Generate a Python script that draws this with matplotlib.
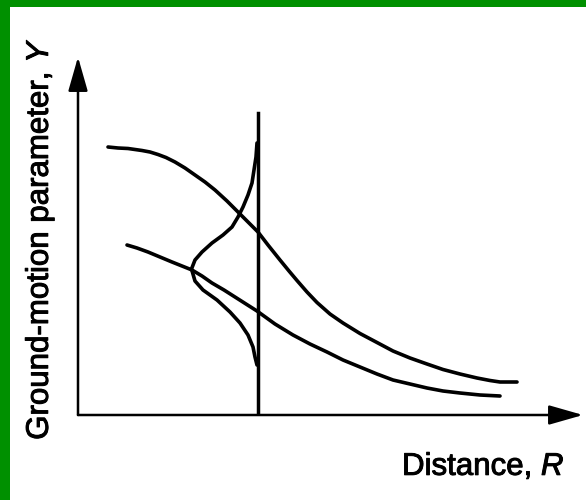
import matplotlib
matplotlib.use("Agg")
import matplotlib.pyplot as plt
import matplotlib.patheffects as pe
from matplotlib.patches import Rectangle

plt.rcParams.update({
    "font.family": ["Liberation Sans", "DejaVu Sans"],
    "mathtext.fontset": "custom",
    "mathtext.rm": "Liberation Sans",
    "mathtext.it": "Liberation Sans:italic",
})

# median curves (arbitrary units)
upper_R = [0.60, 0.80, 1.00, 1.28, 1.44, 1.60, 1.76, 1.94, 2.14, 2.34,
           2.54, 2.74, 2.98, 3.20, 3.40, 3.60, 3.80, 4.04, 4.22, 4.38,
           4.58, 4.78, 5.04, 5.30, 5.64, 5.98, 6.30, 6.64, 6.98, 7.30,
           7.64, 7.98, 8.24, 8.44, 8.78]
upper_Y = [5.36, 5.34, 5.33, 5.29, 5.26, 5.21, 5.15, 5.06, 4.94, 4.80,
           4.66, 4.50, 4.28, 4.06, 3.86, 3.66, 3.40, 3.10, 2.88, 2.69,
           2.46, 2.25, 2.02, 1.84, 1.63, 1.45, 1.28, 1.14, 1.02, 0.91,
           0.82, 0.74, 0.69, 0.66, 0.66]

lower_R = [0.98, 1.18, 1.40, 1.64, 1.88, 2.08, 2.28, 2.48, 2.68, 2.92,
           3.14, 3.36, 3.58, 3.94, 4.30, 4.64, 4.98, 5.30, 5.64, 5.98,
           6.30, 6.64, 6.98, 7.30, 7.64, 8.04, 8.44]
lower_Y = [3.40, 3.34, 3.26, 3.16, 3.06, 2.98, 2.90, 2.78, 2.64, 2.50,
           2.36, 2.22, 2.08, 1.82, 1.60, 1.42, 1.26, 1.10, 0.96, 0.82,
           0.70, 0.62, 0.54, 0.48, 0.44, 0.40, 0.38]

# site distance and the scatter distribution drawn on it
site_R = 3.60
site_top = 6.04
pdf_R = [3.58, 3.56, 3.52, 3.48, 3.40, 3.30, 3.20, 3.08, 2.90, 2.68,
         2.48, 2.34, 2.27, 2.34, 2.50, 2.78, 3.04, 3.24, 3.40, 3.50,
         3.54, 3.58]
pdf_Y = [5.44, 5.16, 4.90, 4.64, 4.40, 4.16, 3.96, 3.76, 3.60, 3.44,
         3.26, 3.10, 2.92, 2.68, 2.50, 2.30, 2.06, 1.84, 1.60, 1.36,
         1.16, 1.00]

R_MAX, Y_MAX = 10.1, 7.16

fig = plt.figure(figsize=(5.86, 5.0), dpi=100)
fig.patch.set_facecolor("#009000")
fig.patches.append(Rectangle((10 / 586, 0), 1, 493 / 500, transform=fig.transFigure,
                             facecolor="white", edgecolor="none", zorder=-10))

ax = fig.add_axes([78 / 586, 85 / 500, 505 / 586, 358 / 500])
ax.set_xlim(0, R_MAX)
ax.set_ylim(0, Y_MAX)
ax.axis("off")

lw = 2.6
style = dict(color="black", lw=lw, solid_capstyle="round", solid_joinstyle="round")
ax.plot(upper_R, upper_Y, **style)
ax.plot(lower_R, lower_Y, **style)
ax.plot([site_R, site_R], [0, site_top], color="black", lw=2.5)
ax.plot(pdf_R, pdf_Y, **style)

arrow = dict(arrowstyle="-|>,head_length=1.05,head_width=0.3", lw=1.8,
             color="black", shrinkA=0, shrinkB=0, mutation_scale=20)
ax.annotate("", xy=(R_MAX, 0), xytext=(0, 0), arrowprops=arrow,
            annotation_clip=False)
ax.annotate("", xy=(0, Y_MAX), xytext=(0, 0), arrowprops=arrow,
            annotation_clip=False)

# scanned lettering is a touch heavier than a regular face
heavy = [pe.withStroke(linewidth=0.7, foreground="black")]
fig.text(40 / 586, 1 - 239 / 500, r"Ground-motion parameter, $\it{Y}$",
         rotation=90, ha="center", va="center", fontsize=22.5,
         path_effects=heavy)
fig.text(402 / 586, 25 / 500, r"Distance, $\it{R}$", ha="left",
         va="baseline", fontsize=22.5, path_effects=heavy)

fig.savefig("out.png", dpi=100, facecolor=fig.get_facecolor())
